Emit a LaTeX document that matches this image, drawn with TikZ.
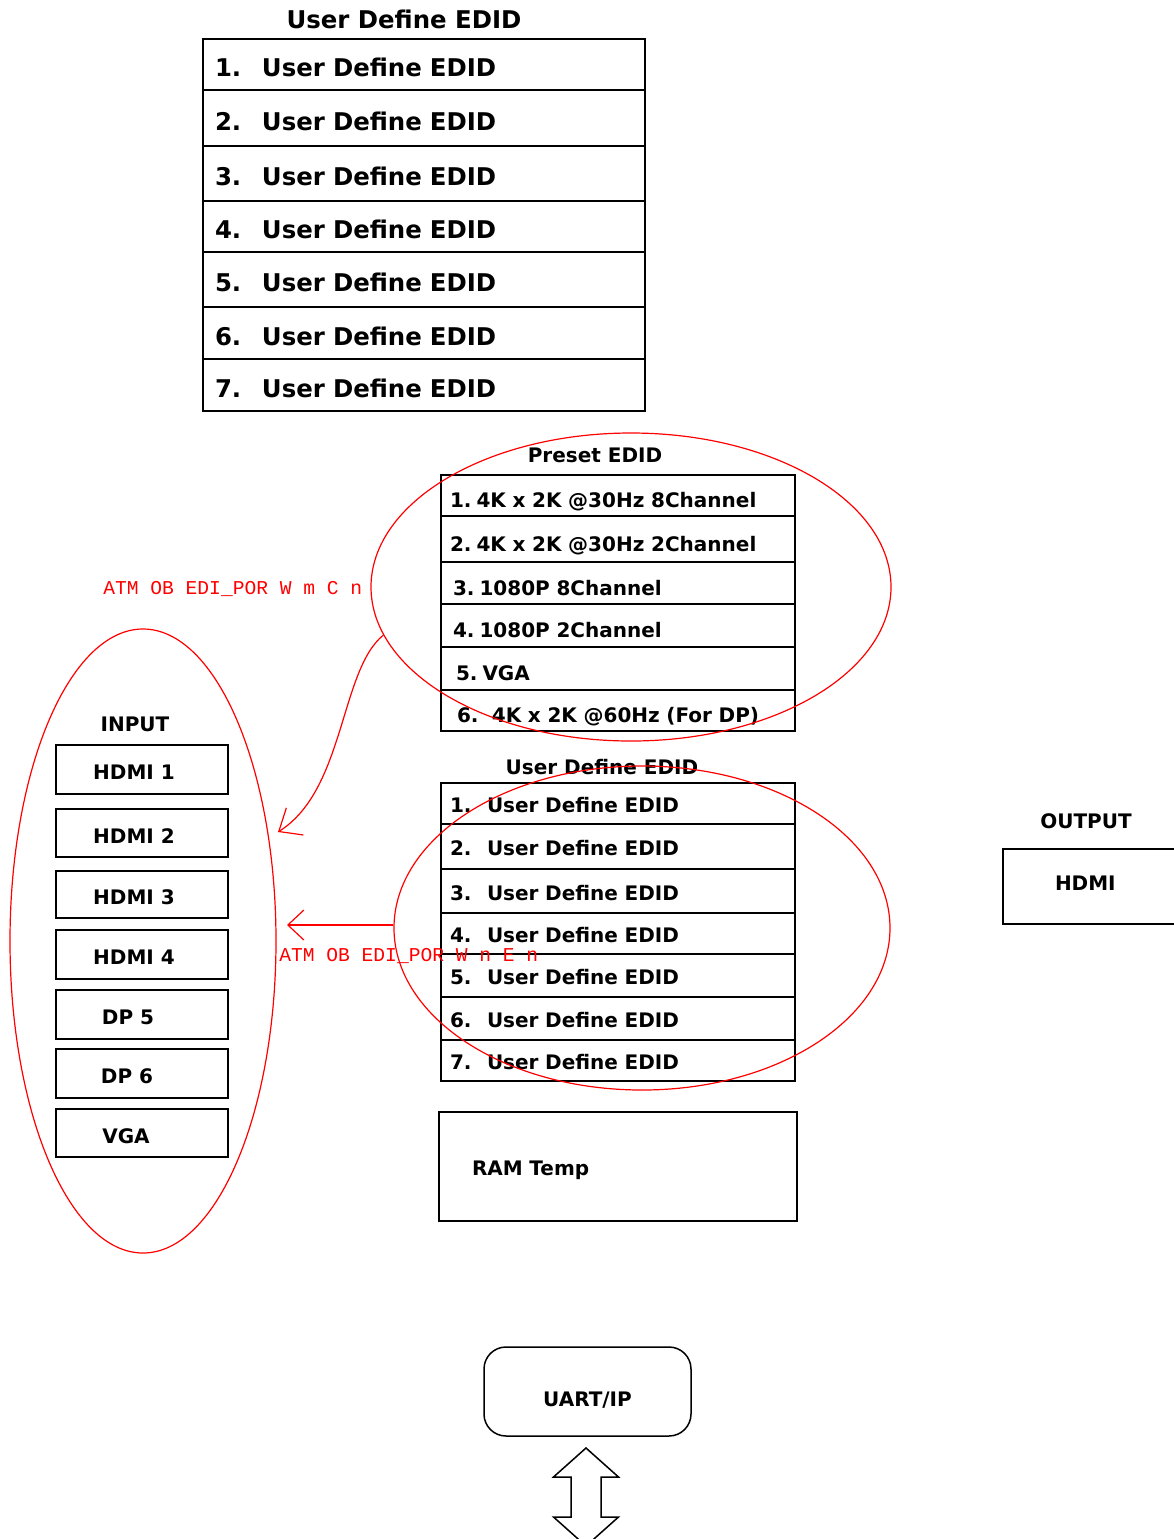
\documentclass[tikz,border=0pt]{standalone}
\usepackage{fontspec}
\setmainfont{DejaVu Sans}
\newfontfamily\redmono{Liberation Mono}
\usetikzlibrary{arrows.meta}
\usetikzlibrary{shapes.geometric}

\tikzset{
  cell/.style={draw, line width=0.75pt, inner ysep=0pt, align=left, text height=9pt, text depth=0pt, font=\bfseries\fontsize{10}{12}\selectfont},
  bigcell/.style={cell, minimum width=221pt, text width=209pt, inner xsep=6pt, text height=12.3pt, font=\bfseries\fontsize{12.2}{14}\selectfont},
  midcell/.style={cell, minimum width=177pt, text width=168pt, inner xsep=4.5pt},
  portbox/.style={draw, line width=0.75pt, minimum width=86pt, inner sep=0pt, text height=10.1pt, text depth=0pt, font=\bfseries\fontsize{10}{12}\selectfont},
  caption/.style={font=\bfseries\fontsize{10}{12}\selectfont},
  redring/.style={draw=red, line width=0.6pt, ellipse, inner sep=0pt},
  rednote/.style={text=red, font=\redmono\fontsize{9.8}{11}\selectfont, anchor=west, inner sep=0pt},
  redarrow/.style={draw=red, line width=0.6pt},
}

\begin{document}
\begin{tikzpicture}[x=0.5pt, y=-0.5pt]
            \useasboundingbox (0,0) rectangle (1174,1539);
            \clip (0,0) rectangle (1174,1539);

            % user define EDID, top
            \node[caption, font=\bfseries\fontsize{12.2}{14}\selectfont] (TT) at (404,19) {User Define EDID};
            \node[bigcell, minimum height=25.5pt] (T1) at (424,64.5) {\makebox[23.5pt][l]{1.}User Define EDID};
            \node[bigcell, minimum height=28pt] (T2) at (424,118) {\makebox[23.5pt][l]{2.}User Define EDID};
            \node[bigcell, minimum height=27.5pt] (T3) at (424,173.5) {\makebox[23.5pt][l]{3.}User Define EDID};
            \node[bigcell, minimum height=25.5pt] (T4) at (424,226.5) {\makebox[23.5pt][l]{4.}User Define EDID};
            \node[bigcell, minimum height=27.5pt] (T5) at (424,279.5) {\makebox[23.5pt][l]{5.}User Define EDID};
            \node[bigcell, minimum height=26pt] (T6) at (424,333) {\makebox[23.5pt][l]{6.}User Define EDID};
            \node[bigcell, minimum height=26pt] (T7) at (424,385) {\makebox[23.5pt][l]{7.}User Define EDID};

            % preset EDID
            \node[caption] (PT) at (595,455) {Preset EDID};
            \node[midcell, text height=12.1pt, minimum height=20.5pt] (P1) at (618,495.5) {1.\hspace{2.5pt}4K x 2K @30Hz 8Channel};
            \node[midcell, text height=12.1pt, minimum height=23pt] (P2) at (618,539) {2.\hspace{2.5pt}4K x 2K @30Hz 2Channel};
            \node[midcell, text height=12.1pt, minimum height=21pt] (P3) at (618,583) {\hspace{1.5pt}3.\hspace{2.5pt}1080P 8Channel};
            \node[midcell, text height=12.1pt, minimum height=21.5pt] (P4) at (618,625.5) {\hspace{1.5pt}4.\hspace{2.5pt}1080P 2Channel};
            \node[midcell, text height=12.1pt, minimum height=21.5pt] (P5) at (618,668.5) {\hspace{3pt}5.\hspace{2.5pt}VGA};
            \node[midcell, text height=12.1pt, minimum height=20.5pt] (P6) at (618,710.5) {\hspace{3.5pt}6.\ \ 4K x 2K @60Hz (For DP)};

            % user define EDID, middle
            \node[caption] (MT) at (602,767) {User Define EDID};
            \node[midcell, minimum height=20.5pt] (M1) at (618,803.5) {\makebox[18.5pt][l]{1.}User Define EDID};
            \node[midcell, minimum height=22.5pt] (M2) at (618,846.5) {\makebox[18.5pt][l]{2.}User Define EDID};
            \node[midcell, minimum height=22pt] (M3) at (618,891) {\makebox[18.5pt][l]{3.}User Define EDID};
            \node[midcell, minimum height=20.5pt] (M4) at (618,933.5) {\makebox[18.5pt][l]{4.}User Define EDID};
            \node[midcell, minimum height=21.5pt] (M5) at (618,975.5) {\makebox[18.5pt][l]{5.}User Define EDID};
            \node[midcell, minimum height=21.5pt] (M6) at (618,1018.5) {\makebox[18.5pt][l]{6.}User Define EDID};
            \node[midcell, minimum height=20.5pt] (M7) at (618,1060.5) {\makebox[18.5pt][l]{7.}User Define EDID};

            \node[cell, minimum width=179pt, minimum height=54.5pt, text width=146pt, inner xsep=16.5pt] (RAM) at (618,1166.5) {RAM Temp};

            % inputs
            \node[caption] (IN) at (135,724) {INPUT};
            \node[portbox, minimum height=24.5pt] (H1) at (142,769.5) {HDMI 1\kern8pt};
            \node[portbox, minimum height=24pt] (H2) at (142,833) {HDMI 2\kern8pt};
            \node[portbox, minimum height=23.5pt] (H3) at (142,894.5) {HDMI 3\kern8pt};
            \node[portbox, minimum height=24.5pt] (H4) at (142,954.5) {HDMI 4\kern8pt};
            \node[portbox, minimum height=24.5pt] (D5) at (142,1014.5) {DP 5\kern14pt};
            \node[portbox, minimum height=24.5pt] (D6) at (142,1073.5) {DP 6\kern15pt};
            \node[portbox, minimum height=24pt] (VG) at (142,1133) {VGA\kern16pt};

            % output
            \node[caption] (OUT) at (1086,821) {OUTPUT};
            \node[cell, text height=4pt, minimum width=100pt, minimum height=37.5pt, text width=48pt, inner xsep=26pt] (HO) at (1103,886.5) {HDMI};

            % control
            \node[draw, line width=0.75pt, rounded corners=11pt, minimum width=103.5pt, minimum height=44.5pt, text height=15pt, text depth=0pt, caption] (UART) at (587.5,1391.5) {UART/IP};
            \coordinate (UD) at (586,1448);
            \draw[line width=0.75pt, fill=white] (UD) -- ++(32.5,29) -- ++(-17.5,0) -- ++(0,40) -- ++(17.5,0)
                -- ++(-32.5,29) -- ++(-32.5,-29) -- ++(17.5,0) -- ++(0,-40) -- ++(-17.5,0) -- cycle;

            % red marks
            \node[redring, minimum width=133pt, minimum height=312pt] (RI) at (143,941) {};
            \node[redring, minimum width=260pt, minimum height=154pt] (RP) at (631,587) {};
            \node[redring, minimum width=248pt, minimum height=162pt] (RU) at (642,928) {};
            \node[rednote] (N1) at (103,589) {ATM OB EDI\_POR W m C n};
            \node[rednote] (N2) at (279,956) {ATM OB EDI\_POR W n E n};
            \coordinate (tipA) at (278,832);
            \coordinate (tipB) at (287,925);

            \draw[redarrow, -{Straight Barb[red, length=9.5pt, width=16pt]}] (RP.191) .. controls (340,670) and (345,790) .. (tipA);
            \draw[redarrow, -{Straight Barb[red, length=8pt, width=15pt]}] (RU.west |- tipB) -- (tipB);
        \end{tikzpicture}
\end{document}
